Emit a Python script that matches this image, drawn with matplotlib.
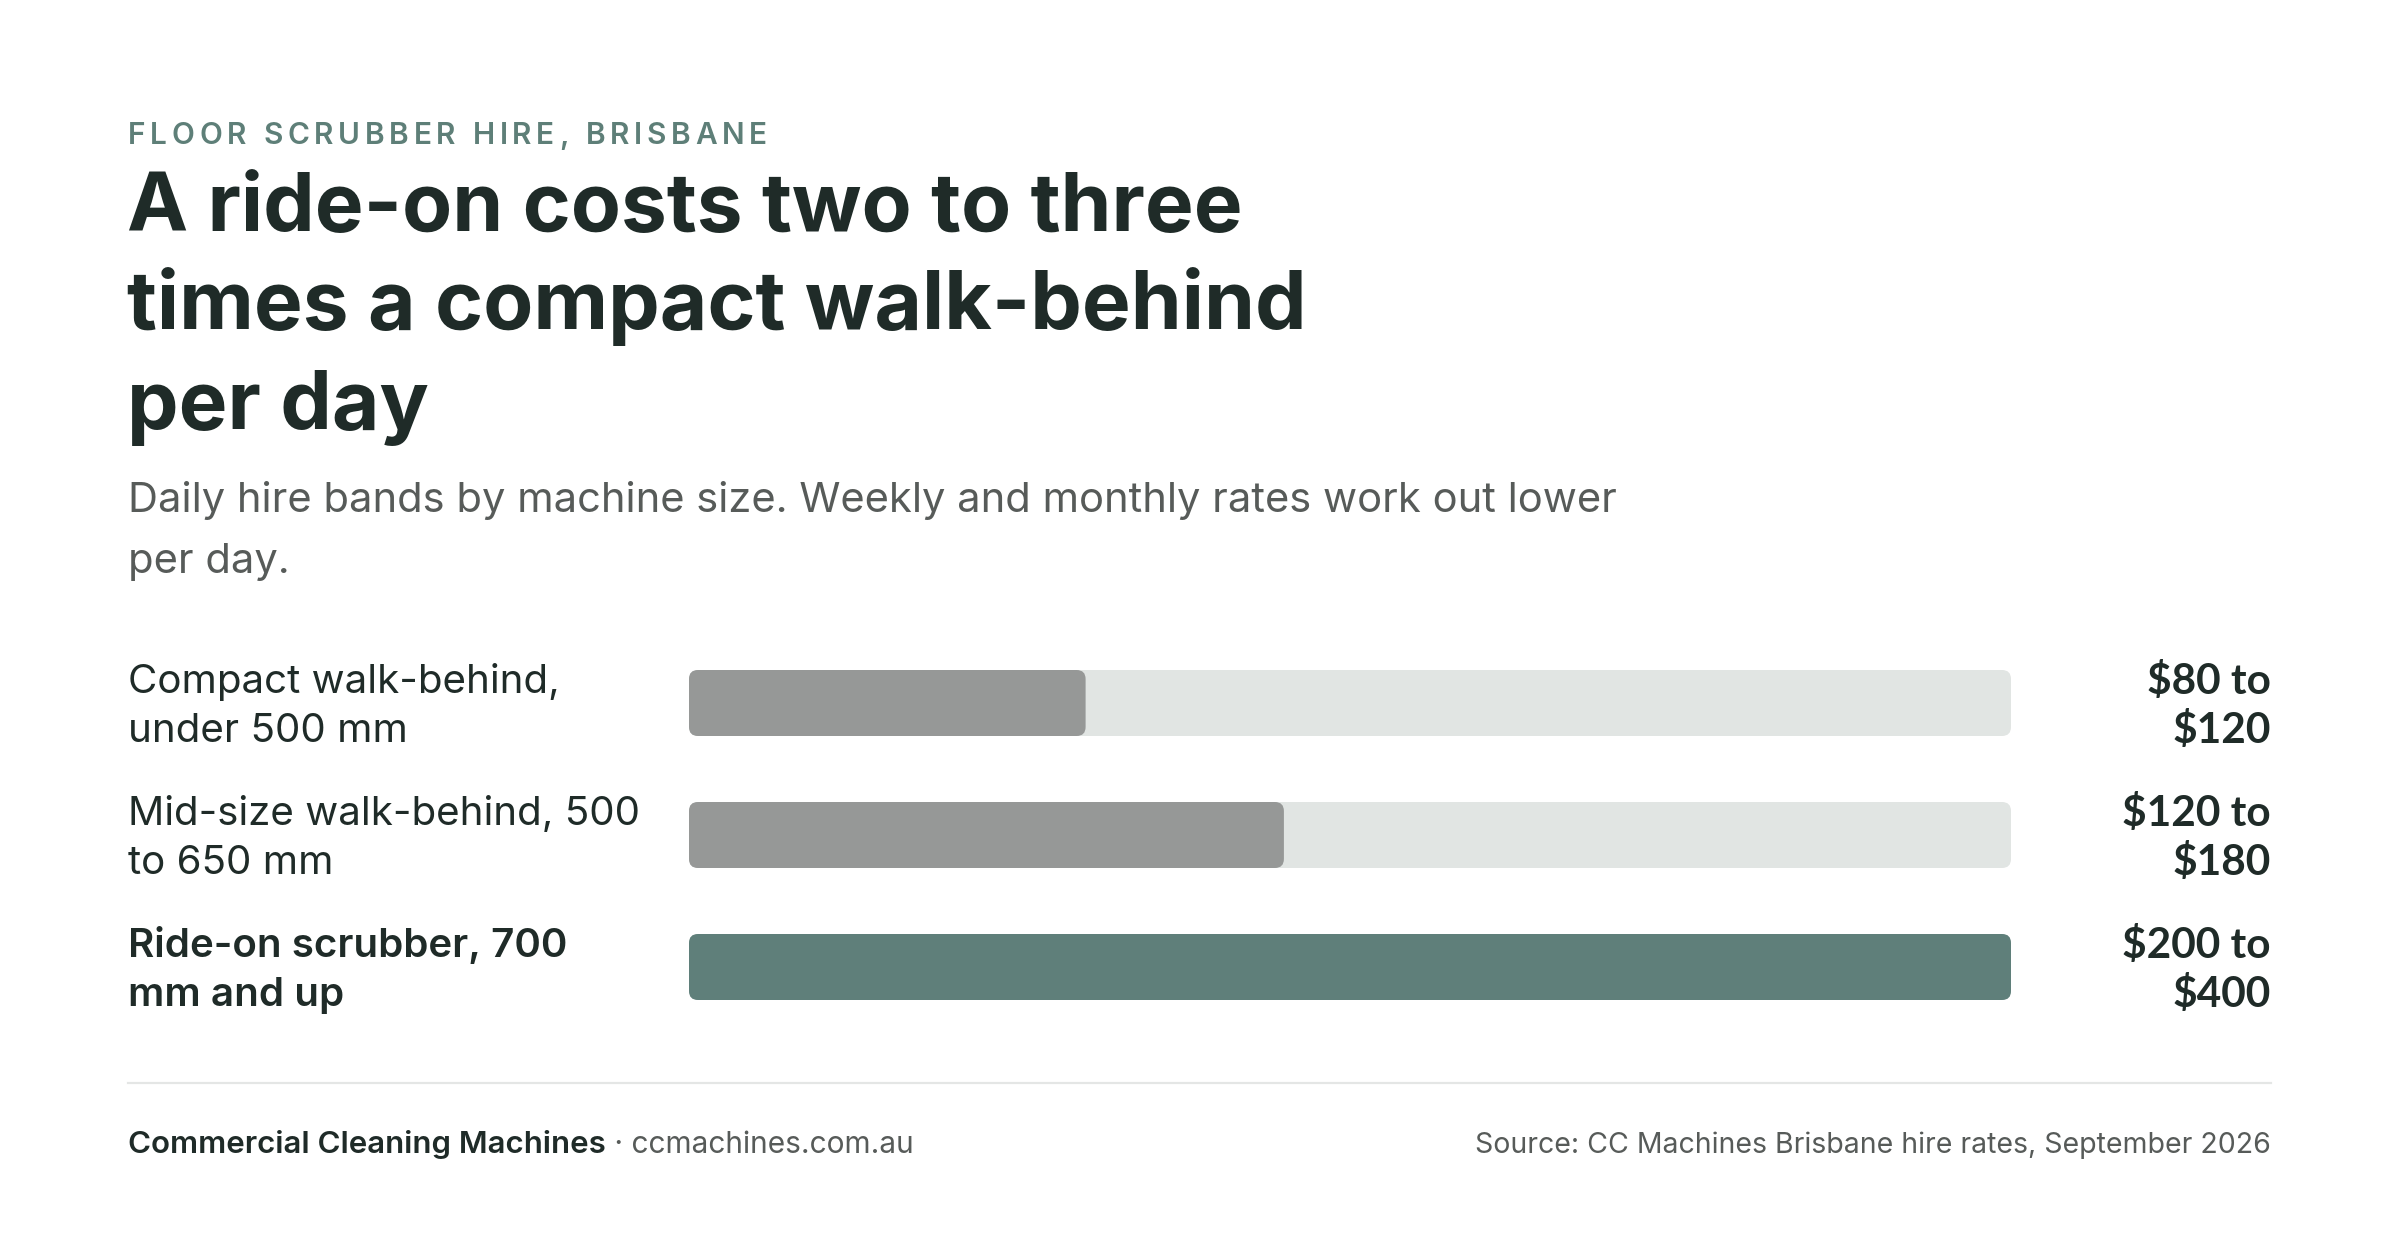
import matplotlib.pyplot as plt
from matplotlib.patches import FancyBboxPatch
from matplotlib import transforms

W, H = 2400, 1242

# ── data ──
machine_labels = [
    "Compact walk-behind,\nunder 500 mm",
    "Mid-size walk-behind, 500\nto 650 mm",
    "Ride-on scrubber, 700\nmm and up",
]
rate_low = [80, 120, 200]
rate_high = [120, 180, 400]
rate_labels = ["$80 to\n$120", "$120 to\n$180", "$200 to\n$400"]
highlight = [False, False, True]
scale_max = 400

kicker = "FLOOR SCRUBBER HIRE, BRISBANE"
title_lines = ["A ride-on costs two to three", "times a compact walk-behind", "per day"]
subtitle_lines = ["Daily hire bands by machine size. Weekly and monthly rates work out lower", "per day."]
brand = "Commercial Cleaning Machines"
site = " \u00b7 ccmachines.com.au"
source = "Source: CC Machines Brisbane hire rates, September 2026"

# ── colours ──
DARK = "#1f2b28"
KICKER = "#5e7f78"
MUTED = "#575b59"
GREY_BAR = "#969897"
TRACK = "#e1e5e3"
TEAL = "#5f7f7a"
RULE = "#e4e6e5"

SANS = ["Inter", "DejaVu Sans"]
VALUE_FONT = ["Lato", "DejaVu Sans"]

fig = plt.figure(figsize=(W / 100, H / 100), dpi=100)
fig.patch.set_facecolor("white")
renderer = fig.canvas.get_renderer()


def fx(px):
    return px / W


def fy(px):
    return 1 - px / H


def text_width(s, **kw):
    t = fig.text(0, 0, s, **kw)
    w = t.get_window_extent(renderer).width
    t.remove()
    return w


def tracked_text(x, y, s, track, **kw):
    # matplotlib has no letter-spacing, so place the glyphs one by one
    for i, ch in enumerate(s):
        if ch == " ":
            continue
        adv = text_width(s[: i + 1], **kw) - text_width(ch, **kw)
        fig.text(fx(x + adv + i * track), fy(y), ch, va="baseline", ha="left", **kw)


LEFT = 128
RIGHT = 2271

# ── header ──
tracked_text(LEFT, 144, kicker, 4.7, fontsize=21.5, color=KICKER,
             family=SANS, fontweight="semibold")

for line, base in zip(title_lines, [231, 329, 429]):
    fig.text(fx(LEFT - 1), fy(base), line, fontsize=59, fontweight="bold",
             color=DARK, family=SANS, va="baseline")

for line, base in zip(subtitle_lines, [512, 573]):
    fig.text(fx(LEFT), fy(base), line, fontsize=30, color=MUTED,
             family=SANS, va="baseline")

# ── bars ──
ax = fig.add_axes([fx(689), fy(1033), (2011 - 689) / W, 396 / H])
ax.set_xlim(0, scale_max)
ax.set_ylim(2.5, -0.5)
ax.axis("off")

bar_h = 0.5
px_per_x = (2011 - 689) / scale_max
px_per_y = 396 / 3
aspect = px_per_x / px_per_y
radius = 9 / px_per_x

for i, (hi, hl) in enumerate(zip(rate_high, highlight)):
    track = FancyBboxPatch((0, i - bar_h / 2), scale_max, bar_h,
                           boxstyle=f"round,pad=0,rounding_size={radius}",
                           mutation_aspect=aspect, fc=TRACK, ec="none")
    ax.add_patch(track)
    fill = FancyBboxPatch((0, i - bar_h / 2), hi, bar_h,
                          boxstyle=f"round,pad=0,rounding_size={radius}",
                          mutation_aspect=aspect, fc=TEAL if hl else GREY_BAR, ec="none")
    ax.add_patch(fill)

row_trans = transforms.blended_transform_factory(fig.transFigure, ax.transData)
line_offsets = [7.2, -28.1]  # points, baseline relative to row centre

for i, (lab, val, hl) in enumerate(zip(machine_labels, rate_labels, highlight)):
    for line, off in zip(lab.split("\n"), line_offsets):
        ax.annotate(line, xy=(fx(LEFT), i), xycoords=row_trans,
                    xytext=(0, off), textcoords="offset points",
                    fontsize=29, color=DARK, family=SANS, va="baseline", ha="left",
                    fontweight="semibold" if hl else "normal", annotation_clip=False)
    for line, off in zip(val.split("\n"), line_offsets):
        ax.annotate(line, xy=(fx(RIGHT), i), xycoords=row_trans,
                    xytext=(0, off - 0.6), textcoords="offset points",
                    fontsize=30.5, color=DARK, family=VALUE_FONT, va="baseline", ha="right",
                    fontweight="bold", annotation_clip=False)

# ── footer ──
fig.add_artist(plt.Line2D([fx(LEFT), fx(RIGHT)], [fy(1083), fy(1083)],
                          color=RULE, lw=1.6, transform=fig.transFigure))

fig.text(fx(LEFT), fy(1153), brand, fontsize=22.5, fontweight="semibold",
         color=DARK, family=SANS, va="baseline")
bw = text_width(brand, fontsize=22.5, fontweight="semibold", family=SANS)
fig.text(fx(LEFT + bw), fy(1153), site, fontsize=21.5, color=MUTED,
         family=SANS, va="baseline")
fig.text(fx(RIGHT), fy(1153), source, fontsize=20.5, color=MUTED,
         family=SANS, va="baseline", ha="right")

fig.savefig("out.png", dpi=100, facecolor="white")
